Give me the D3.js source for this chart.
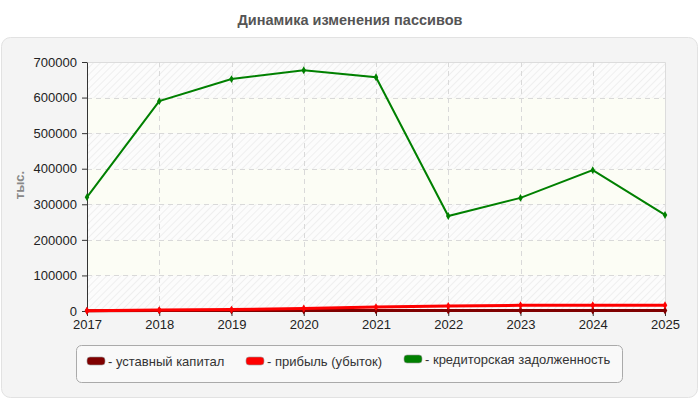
<!DOCTYPE html>
<html><head><meta charset="utf-8">
<script src="https://cdn.jsdelivr.net/npm/d3@7"></script>
<style>body{margin:0;background:#fff}svg{display:block;font-family:Arial,"Liberation Sans",sans-serif}</style>
</head><body><svg id="c" width="700" height="400"></svg>
<script>
const years = [2017, 2018, 2019, 2020, 2021, 2022, 2023, 2024, 2025];
const ustavCapital = [500, 1500, 1500, 1500, 1500, 1500, 1500, 1500, 1500];
const profit = [500, 2500, 4000, 7000, 11000, 14000, 16000, 16000, 16000];
const creditors = [320000, 590000, 652000, 677000, 657000, 267000, 318000, 396000, 270000];
const yTicks = [0, 100000, 200000, 300000, 400000, 500000, 600000, 700000];
const seriesNames = ["- уставный капитал", "- прибыль (убыток)", "- кредиторская задолженность"];
const seriesColors = ["#800000", "#ff0000", "#008000"];
const title = "Динамика изменения пассивов";
const yLabel = "тыс.";

const svg = d3.select("#c");
const defs = svg.append("defs");
const pat = defs.append("pattern").attr("id","hatch").attr("width",5).attr("height",5)
  .attr("patternUnits","userSpaceOnUse").attr("patternTransform","rotate(45)");
pat.append("rect").attr("width",5).attr("height",5).attr("fill","#fcfcfc");
pat.append("line").attr("x1",0).attr("y1",0).attr("x2",0).attr("y2",5).attr("stroke","#efefef").attr("stroke-width",2);

svg.append("text").attr("x",350).attr("y",25).attr("text-anchor","middle")
  .attr("font-size",14.5).attr("font-weight","bold").attr("fill","#555").text(title);

svg.append("rect").attr("x",1.5).attr("y",37.5).attr("width",696).attr("height",360).attr("rx",9)
  .attr("fill","#f4f4f4").attr("stroke","#e2e2e2");

const m = {l:87, r:665, t:62, b:311};
const x = d3.scaleLinear().domain([years[0], years[years.length-1]]).range([m.l, m.r]);
const y = d3.scaleLinear().domain([0, 700000]).range([m.b, m.t]);

// bands
for (let i = 0; i < yTicks.length-1; i++) {
  svg.append("rect").attr("x",m.l).attr("width",m.r-m.l)
    .attr("y",y(yTicks[i+1])).attr("height",y(yTicks[i])-y(yTicks[i+1]))
    .attr("fill", i % 2 === 0 ? "url(#hatch)" : "#fcfdf5");
}
// border top/right
svg.append("path").attr("d",`M${m.l},${m.t+0.5}H${m.r+0.5}V${m.b}`).attr("fill","none").attr("stroke","#dcdcdc");

// grid
const g = svg.append("g").attr("stroke","#d9d9d9").attr("stroke-dasharray","5,4");
yTicks.slice(1,-1).forEach(t => g.append("line").attr("x1",m.l).attr("x2",m.r).attr("y1",Math.round(y(t))+0.5).attr("y2",Math.round(y(t))+0.5));
years.slice(1,-1).forEach(t => g.append("line").attr("y1",m.t).attr("y2",m.b).attr("x1",Math.round(x(t))+0.5).attr("x2",Math.round(x(t))+0.5));

// axes
const ya = svg.append("g").attr("transform",`translate(${m.l},0)`)
  .call(d3.axisLeft(y).tickValues(yTicks).tickFormat(d3.format("d")).tickSize(5).tickSizeOuter(0));
const xa = svg.append("g").attr("transform",`translate(0,${m.b})`)
  .call(d3.axisBottom(x).tickValues(years).tickFormat(d3.format("d")).tickSize(5).tickSizeOuter(0));
[ya, xa].forEach(a => {
  a.select(".domain").attr("stroke","#333");
  a.selectAll(".tick line").attr("stroke","#333");
  a.selectAll("text").attr("font-size",13).attr("fill","#222").attr("font-family","Arial,'Liberation Sans',sans-serif");
});
ya.selectAll("text").attr("x",-10);
xa.selectAll("text").attr("y",9);

svg.append("text").attr("transform","translate(24,185) rotate(-90)").attr("text-anchor","middle")
  .attr("font-size",13).attr("font-weight","bold").attr("fill","#888").text(yLabel);

// lines
const allSeries = [ustavCapital, profit, creditors];
const widths = [3, 3, 2];
const line = d3.line().x((d,i)=>x(years[i])).y(d=>y(d));
allSeries.forEach((s, k) => {
  svg.append("path").datum(s).attr("d", line).attr("fill","none")
    .attr("stroke", seriesColors[k]).attr("stroke-width", widths[k]);
  svg.selectAll(null).data(s).enter().append("path")
    .attr("transform",(d,i)=>`translate(${x(years[i])},${y(d)})`)
    .attr("d", d3.symbol(d3.symbolDiamond, 18)())
    .attr("fill", seriesColors[k]);
});

// legend
svg.append("rect").attr("x",76.5).attr("y",345.5).attr("width",546).attr("height",37).attr("rx",5)
  .attr("fill","#f9f9f9").attr("stroke","#aaa");
const lx = [87, 246, 404];
seriesNames.forEach((n, k) => {
  svg.append("rect").attr("x",lx[k]).attr("y",k===2?355:357).attr("width",18).attr("height",8).attr("rx",3)
    .attr("fill",seriesColors[k]).attr("stroke","#999").attr("stroke-width",0.6);
  svg.append("text").attr("x",lx[k]+21).attr("y",k===2?364:366).attr("font-size",13).attr("fill","#333").text(n);
});
</script></body></html>
